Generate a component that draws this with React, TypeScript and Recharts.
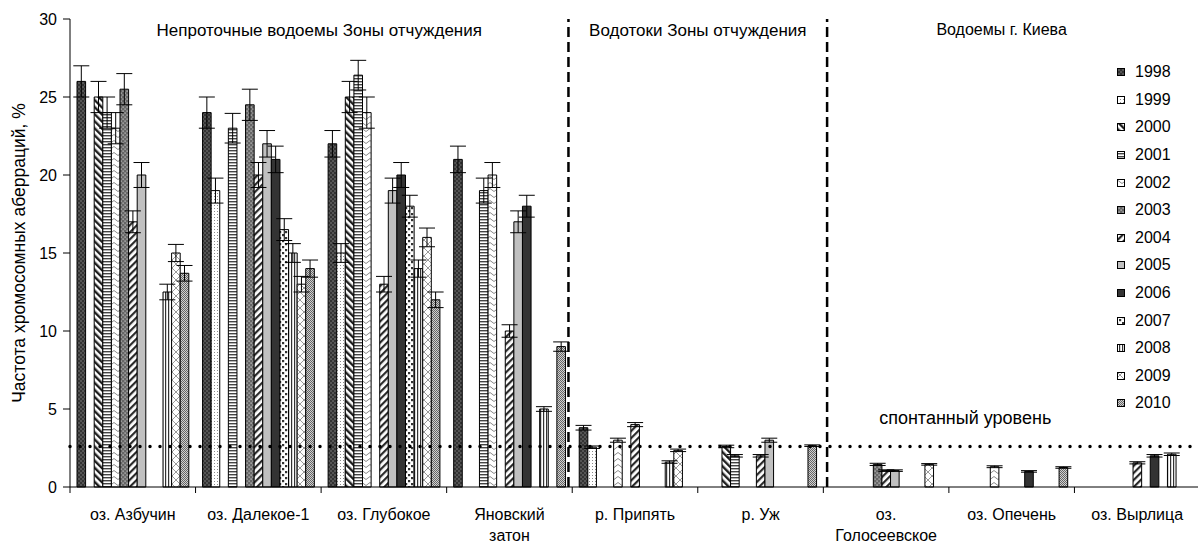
import React from 'react';
import { BarChart, Bar, XAxis, YAxis, ErrorBar, ReferenceLine, ReferenceDot, Legend, Label } from 'recharts';

const CATEGORIES = [
  'оз. Азбучин', 'оз. Далекое-1', 'оз. Глубокое', 'Яновский\nзатон', 'р. Припять',
  'р. Уж', 'оз.\nГолосеевское', 'оз. Опечень', 'оз. Вырлица',
];
const YEARS = ['1998', '1999', '2000', '2001', '2002', '2003', '2004', '2005', '2006', '2007', '2008', '2009', '2010'];

// values, % of aberrant cells, per category
const v1998 = [26, 24, 22, 21, 3.8, null, null, null, null];
const v1999 = [null, 19, 15, null, 2.55, null, null, null, null];
const v2000 = [25, null, 25, null, null, 2.6, null, null, null];
const v2001 = [24, 23, 26.4, 19, null, 2.0, null, null, null];
const v2002 = [23, null, 24, 20, 3.0, null, null, 1.3, null];
const v2003 = [25.5, 24.5, null, null, null, null, 1.45, null, null];
const v2004 = [17, 20, 13, 10, 4.0, 2.0, 1.05, null, 1.55];
const v2005 = [20, 22, 19, 17, null, 3.0, 1.05, null, null];
const v2006 = [null, 21, 20, 18, null, null, null, 1.0, 2.0];
const v2007 = [null, 16.5, 18, null, null, null, null, null, null];
const v2008 = [12.5, 15, 14, 5, 1.6, null, null, null, 2.1];
const v2009 = [15, 13, 16, null, 2.35, null, 1.45, null, null];
const v2010 = [13.7, 14, 12, 9, null, 2.65, null, 1.25, null];

// error (±)
const e1998 = [1, 1, 0.85, 0.85, 0.15, null, null, null, null];
const e1999 = [null, 0.8, 0.6, null, 0.08, null, null, null, null];
const e2000 = [1, null, 1, null, null, 0.08, null, null, null];
const e2001 = [1, 0.95, 0.95, 0.8, null, 0.08, null, null, null];
const e2002 = [1, null, 1, 0.8, 0.13, null, null, 0.06, null];
const e2003 = [1, 1, null, null, null, null, 0.07, null, null];
const e2004 = [0.7, 0.8, 0.5, 0.4, 0.13, 0.08, 0.05, null, 0.07];
const e2005 = [0.8, 0.85, 0.8, 0.7, null, 0.13, 0.05, null, null];
const e2006 = [null, 0.85, 0.8, 0.7, null, null, null, 0.05, 0.08];
const e2007 = [null, 0.7, 0.7, null, null, null, null, null, null];
const e2008 = [0.5, 0.6, 0.55, 0.15, 0.08, null, null, null, 0.08];
const e2009 = [0.55, 0.5, 0.6, null, 0.08, null, 0.05, null, null];
const e2010 = [0.5, 0.55, 0.5, 0.3, null, 0.05, null, 0.05, null];

const VALUES = [v1998, v1999, v2000, v2001, v2002, v2003, v2004, v2005, v2006, v2007, v2008, v2009, v2010];
const ERRORS = [e1998, e1999, e2000, e2001, e2002, e2003, e2004, e2005, e2006, e2007, e2008, e2009, e2010];

const Y_TICKS = [0, 5, 10, 15, 20, 25, 30];
const SPONTANEOUS = 2.6;
// boundary ticks (integers) and label slots (halves) on the helper numeric axis
const NUM_TICKS = [0, 0.5, 1, 1.5, 2, 2.5, 3, 3.5, 4, 4.5, 5, 5.5, 6, 6.5, 7, 7.5, 8, 8.5, 9];
const DIVIDERS = [3.97, 6.03];

const data = CATEGORIES.map((name, i) => {
  const row: Record<string, any> = { name, pos: i + 0.5 };
  YEARS.forEach((y, k) => {
    row['y' + y] = VALUES[k][i];
    row['e' + y] = ERRORS[k][i];
  });
  return row;
});

const Patterns = () => (
  <defs>
    <pattern id="p1998" width="4" height="4" patternUnits="userSpaceOnUse">
      <rect width="4" height="4" fill="#333" />
      <rect x="0.5" y="0.5" width="1" height="1" fill="#b8b8b8" />
      <rect x="2.5" y="2.5" width="1" height="1" fill="#b8b8b8" />
    </pattern>
    <pattern id="p1999" width="3" height="3" patternUnits="userSpaceOnUse">
      <rect width="3" height="3" fill="#fff" />
      <rect x="1" y="1" width="1" height="1" fill="#8a8a8a" />
    </pattern>
    <pattern id="p2000" width="5" height="5" patternUnits="userSpaceOnUse" patternTransform="rotate(-45)">
      <rect width="5" height="5" fill="#fff" />
      <rect width="2.4" height="5" fill="#1e1e1e" />
    </pattern>
    <pattern id="p2001" width="4" height="3" patternUnits="userSpaceOnUse">
      <rect width="4" height="3" fill="#fff" />
      <rect width="4" height="1.4" fill="#444" />
    </pattern>
    <pattern id="p2002" width="8" height="6" patternUnits="userSpaceOnUse">
      <rect width="8" height="6" fill="#fff" />
      <path d="M0,4 Q2,1 4,4 T8,4" fill="none" stroke="#8a8a8a" strokeWidth="1" />
    </pattern>
    <pattern id="p2003" width="4" height="4" patternUnits="userSpaceOnUse">
      <rect width="4" height="4" fill="#666" />
      <rect x="0.5" y="0.5" width="1.2" height="1.2" fill="#d0d0d0" />
      <rect x="2.5" y="2.5" width="1.2" height="1.2" fill="#d0d0d0" />
    </pattern>
    <pattern id="p2004" width="5" height="5" patternUnits="userSpaceOnUse" patternTransform="rotate(45)">
      <rect width="5" height="5" fill="#fff" />
      <rect width="2.2" height="5" fill="#2a2a2a" />
    </pattern>
    <pattern id="p2005" width="4" height="4" patternUnits="userSpaceOnUse">
      <rect width="4" height="4" fill="#c0c0c0" />
    </pattern>
    <pattern id="p2006" width="4" height="4" patternUnits="userSpaceOnUse">
      <rect width="4" height="4" fill="#333" />
    </pattern>
    <pattern id="p2007" width="6" height="6" patternUnits="userSpaceOnUse">
      <rect width="6" height="6" fill="#fff" />
      <rect x="0" y="0" width="2.2" height="2.2" fill="#333" />
      <rect x="3" y="3" width="2.2" height="2.2" fill="#333" />
    </pattern>
    <pattern id="p2008" width="3" height="4" patternUnits="userSpaceOnUse">
      <rect width="3" height="4" fill="#fff" />
      <rect width="1.2" height="4" fill="#333" />
    </pattern>
    <pattern id="p2009" width="8" height="8" patternUnits="userSpaceOnUse">
      <rect width="8" height="8" fill="#fff" />
      <path d="M0,0 L8,8 M8,0 L0,8" fill="none" stroke="#9a9a9a" strokeWidth="1" />
    </pattern>
    <pattern id="p2010" width="2" height="2" patternUnits="userSpaceOnUse">
      <rect width="2" height="2" fill="#d0d0d0" />
      <rect width="1" height="1" fill="#666" />
      <rect x="1" y="1" width="1" height="1" fill="#666" />
    </pattern>
  </defs>
);

const BoundaryTick = (props: any) => {
  const { x, y, payload } = props;
  const v = payload.value as number;
  if (Number.isInteger(v)) {
    return <line x1={x} x2={x} y1={y} y2={y + 6} stroke="#000" strokeWidth={1} />;
  }
  const lines = CATEGORIES[Math.floor(v)].split('\n');
  return (
    <text x={x} y={y + 33} textAnchor="middle" fontSize={16} fill="#000">
      {lines.map((l, i) => (
        <tspan key={i} x={x} dy={i === 0 ? 0 : 21}>{l}</tspan>
      ))}
    </text>
  );
};

const LegendBox = () => (
  <div style={{ fontSize: 16, color: '#000' }}>
    {YEARS.map((y) => (
      <div key={y} style={{ display: 'flex', alignItems: 'center', height: 27.6 }}>
        <svg width={10} height={10} style={{ display: 'block' }}>
          <rect x={1.5} y={1.5} width={7} height={7} fill={`url(#p${y})`} stroke="#000" strokeWidth={1} />
        </svg>
        <span style={{ marginLeft: 9 }}>{y}</span>
      </div>
    ))}
  </div>
);

const textLabel = (value: string, fontSize = 17) => ({ value, position: 'center' as const, fill: '#000', fontSize });

export default function App() {
  return (
    <div style={{ position: 'absolute', left: 0, top: 0, width: 1198, height: 547, overflow: 'hidden', background: '#fff', fontFamily: '"Liberation Sans", Arial, sans-serif' }}>
      <BarChart width={1200} height={547} data={data} margin={{ top: 19, right: 0, left: 0, bottom: 0 }} barSize={8.6} barGap={0}>
        <Patterns />
        <XAxis dataKey="name" hide height={0} />
        <XAxis
          xAxisId="num"
          dataKey="pos"
          type="number"
          domain={[0, 9]}
          allowDataOverflow
          ticks={NUM_TICKS}
          interval={0}
          height={60}
          tickSize={0}
          tickMargin={0}
          tickLine={false}
          axisLine={{ stroke: '#000' }}
          tick={<BoundaryTick />}
        />
        <YAxis
          domain={[0, 30]}
          ticks={Y_TICKS}
          width={70}
          tickSize={7}
          tickMargin={6}
          axisLine={{ stroke: '#000' }}
          tickLine={{ stroke: '#000' }}
          tick={{ fill: '#000', fontSize: 16 }}
        >
          <Label value="Частота хромосомных аберраций, %" angle={-90} position="insideLeft" offset={19} style={{ textAnchor: 'middle' }} fill="#000" fontSize={17.5} />
        </YAxis>
        {YEARS.map((y) => (
          <Bar key={y} dataKey={'y' + y} name={y} fill={`url(#p${y})`} stroke="#000" strokeWidth={1} isAnimationActive={false}>
            <ErrorBar dataKey={'e' + y} width={8} stroke="#000" strokeWidth={1} direction="y" />
          </Bar>
        ))}
        {DIVIDERS.map((d) => (
          <ReferenceLine key={d} xAxisId="num" x={d} stroke="#000" strokeWidth={2.5} strokeDasharray="10 5" zIndex={800} />
        ))}
        <ReferenceLine y={SPONTANEOUS} stroke="#000" strokeWidth={3.5} strokeDasharray="0 10" strokeLinecap="round" zIndex={800} />
        <ReferenceDot xAxisId="num" x={1.985} y={29.28} r={1} fill="none" stroke="none" label={textLabel('Непроточные водоемы Зоны отчуждения')} />
        <ReferenceDot xAxisId="num" x={5} y={29.28} r={1} fill="none" stroke="none" label={textLabel('Водотоки Зоны отчуждения')} />
        <ReferenceDot xAxisId="num" x={7.42} y={29.35} r={1} fill="none" stroke="none" label={textLabel('Водоемы г. Киева', 16)} />
        <ReferenceDot xAxisId="num" x={7.13} y={4.48} r={1} fill="none" stroke="none" label={textLabel('спонтанный уровень', 18)} />
        <Legend
          layout="vertical"
          align="center"
          verticalAlign="middle"
          wrapperStyle={{ position: 'absolute', left: 1116, top: 58.5, width: 80, height: 'auto' }}
          content={() => <LegendBox />}
        />
      </BarChart>
    </div>
  );
}
